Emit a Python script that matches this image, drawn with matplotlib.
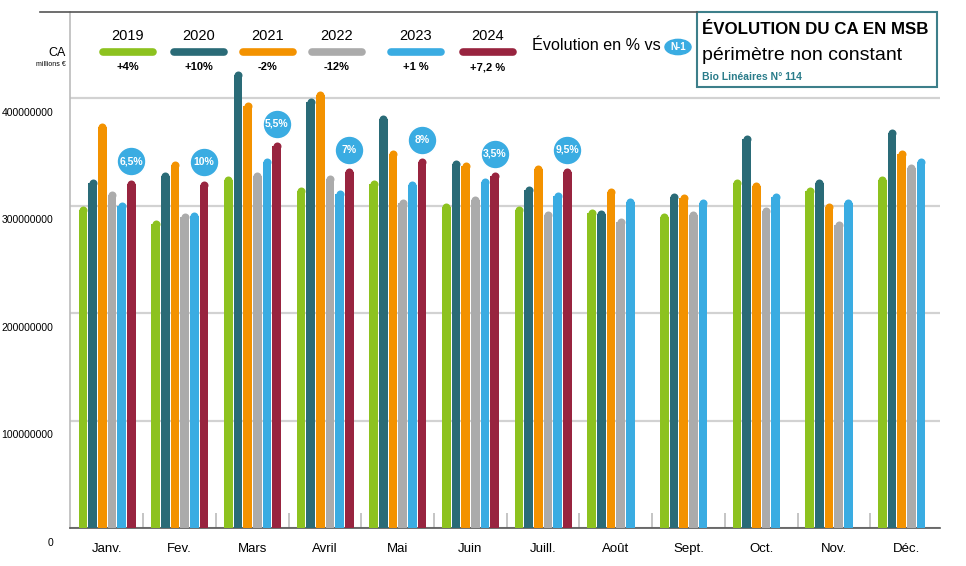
import numpy as np
import matplotlib.pyplot as plt
from matplotlib.transforms import ScaledTranslation
from matplotlib.patches import Rectangle
from matplotlib.lines import Line2D

plt.rcParams['font.family'] = ['Liberation Sans', 'DejaVu Sans']

# CA en millions d'euros
months = ['Janv.', 'Fev.', 'Mars', 'Avril', 'Mai', 'Juin', 'Juill.',
          'Août', 'Sept.', 'Oct.', 'Nov.', 'Déc.']
years = ['2019', '2020', '2021', '2022', '2023', '2024']
ca_2019 = [300, 286.5, 327.5, 317.5, 324, 303, 300, 297, 293, 325, 317.5, 328]
ca_2020 = [325, 331.5, 425, 400, 384, 343, 318, 296, 312, 365.5, 324.5, 371]
ca_2021 = [377, 342, 397, 407, 352, 341, 338, 317, 311, 322, 303, 351.5]
ca_2022 = [313.5, 293, 331.5, 329, 306, 309, 295, 289, 295, 299, 286, 339]
ca_2023 = [304, 294, 344.5, 315, 323, 326, 313, 307, 306, 312, 306, 344]
ca_2024 = [324, 323, 359, 335, 344, 331, 335, np.nan, np.nan, np.nan, np.nan, np.nan]
evol_n1 = ['+4%', '+10%', '-2%', '-12%', '+1 %', '+7,2 %']
bubble_2024 = ['6,5%', '10%', '5,5%', '7%', '8%', '3,5%', '9,5%']

series = [ca_2019, ca_2020, ca_2021, ca_2022, ca_2023, ca_2024]
colors = ['#8DC21F', '#2A6B77', '#F39200', '#ABABAB', '#3AACE2', '#98243F']

W, H = 966, 566
fig = plt.figure(figsize=(W / 100, H / 100), dpi=100)
ax = fig.add_axes([70 / W, 1 - 528 / H, 870 / W, 516 / H])

x = np.arange(len(months))
step = 0.133
width = 0.118
r = 4e6  # rayon de l'arrondi en haut des barres
for k, (vals, col) in enumerate(zip(series, colors)):
    v = np.array(vals) * 1e6
    ax.bar(x + (k - 2.5) * step, v - r, width, color=col, zorder=3)
    ax.scatter(x + (k - 2.5) * step, v - r, s=33, color=col, linewidths=0, zorder=3)

# bulles d'evolution 2024
bx = x[:len(bubble_2024)] + 2.5 * step
by = np.array(ca_2024[:len(bubble_2024)]) * 1e6 + 17e6
ax.scatter(bx, by, s=430, color='#3AACE2', edgecolor='white', linewidth=1, zorder=4)
for xx, yy, t in zip(bx, by, bubble_2024):
    ax.text(xx, yy, t, color='white', fontsize=7.5, fontweight='bold',
            ha='center', va='center', zorder=5)

ax.set_xlim(-0.51, 11.46)
ax.set_ylim(0, 480e6)
ax.set_yticks([0, 1e8, 2e8, 3e8, 4e8])
ax.set_yticklabels(['0', '100000000', '200000000', '300000000', '400000000'])
ax.tick_params(axis='y', length=0, pad=12, labelsize=7.5)
for lab in ax.get_yticklabels():
    lab.set_transform(lab.get_transform() + ScaledTranslation(0, -10 / 72, fig.dpi_scale_trans))
ax.set_xticks(x)
ax.set_xticklabels(months)
ax.tick_params(axis='x', length=0, pad=11, labelsize=9.5)
ax.yaxis.grid(True, color='#d2d2d2', lw=1.6, zorder=0)
ax.set_axisbelow(True)
ax.vlines(x[:-1] + 0.5, 0, 14e6, color='#bbbbbb', lw=1.2, zorder=2)

ax.spines['top'].set_visible(False)
ax.spines['right'].set_visible(False)
ax.spines['left'].set_color('#bbbbbb')
ax.spines['left'].set_linewidth(1.2)
ax.spines['bottom'].set_color('#555555')
ax.spines['bottom'].set_linewidth(1.2)

# ligne du haut
fig.add_artist(Line2D([40 / W, 697 / W], [1 - 12 / H] * 2, color='#555555', lw=1.2))

# legende
fig.text(66 / W, 1 - 53 / H, 'CA', fontsize=9, ha='right', va='center')
fig.text(66 / W, 1 - 65 / H, 'millions €', fontsize=5, ha='right', va='center')
centers = [128, 199, 268, 337, 416, 488]
for cx, yr, col, ev in zip(centers, years, colors, evol_n1):
    fig.text(cx / W, 1 - 36 / H, yr, fontsize=10.5, ha='center', va='center')
    fig.add_artist(Line2D([(cx - 25) / W, (cx + 25) / W], [1 - 52 / H] * 2,
                          lw=5.5, color=col, solid_capstyle='round'))
    fig.text(cx / W, 1 - 67 / H, ev, fontsize=8, fontweight='bold', ha='center', va='center')

fig.text(532 / W, 1 - 46 / H, 'Évolution en % vs', fontsize=11.6, ha='left', va='center')
fig.add_artist(plt.Circle((678 / W, 1 - 47 / H), 0.0135, color='#3AACE2',
                          transform=fig.transFigure))
fig.text(678 / W, 1 - 47 / H, 'N-1', fontsize=7, fontweight='bold', color='white',
         ha='center', va='center')

# cartouche titre
fig.add_artist(Rectangle((697 / W, 1 - 87 / H), 240 / W, 75 / H, transform=fig.transFigure,
                         fill=False, edgecolor='#3D7F8A', lw=1.5))
fig.text(702 / W, 1 - 30 / H, 'ÉVOLUTION DU CA EN MSB', fontsize=12.2, fontweight='bold',
         ha='left', va='center')
fig.text(702 / W, 1 - 55 / H, 'périmètre non constant', fontsize=14, ha='left', va='center')
fig.text(702 / W, 1 - 77 / H, 'Bio Linéaires N° 114', fontsize=7.5, fontweight='bold',
         color='#2A7C8A', ha='left', va='center')

fig.savefig('out.png', dpi=100)
